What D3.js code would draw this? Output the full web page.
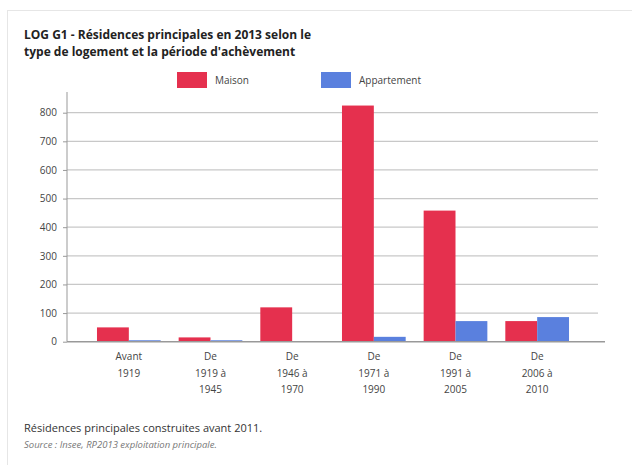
<!DOCTYPE html>
<html>
<head>
<meta charset="utf-8">
<script src="https://cdn.jsdelivr.net/npm/d3@7"></script>
<style>
body { margin:0; background:#fff; font-family:"Open Sans", sans-serif; }
</style>
</head>
<body>
<svg id="chart" width="632" height="465"></svg>
<script>
var categories = [["Avant", "1919"], ["De", "1919 à", "1945"], ["De", "1946 à", "1970"], ["De", "1971 à", "1990"], ["De", "1991 à", "2005"], ["De", "2006 à", "2010"]];
var series = ["Maison", "Appartement"];
var maison = [50, 15, 120, 825, 458, 72];
var appartement = [5, 5, 2, 17, 72, 86];
var yTicks = [0, 100, 200, 300, 400, 500, 600, 700, 800];
var colors = ["#e5304e", "#5a80de"];

var svg = d3.select("#chart");
var config = { left: 67, right: 598, top: 92, bottom: 341.7 };

// card
svg.append("rect").attr("x", 7.5).attr("y", 10.5).attr("width", 640).attr("height", 470)
    .attr("fill", "#fff").attr("stroke", "#e6e6e6");

svg.append("text").attr("x", 24).attr("y", 39).attr("font-size", 12).attr("font-weight", "bold").attr("fill", "#222")
    .text("LOG G1 - Résidences principales en 2013 selon le");
svg.append("text").attr("x", 24).attr("y", 56).attr("font-size", 12).attr("font-weight", "bold").attr("fill", "#222")
    .text("type de logement et la période d'achèvement");

var names = categories.map(function(d) { return d.join(" "); });
var x = d3.scaleBand().domain(names).range([88, 578]).paddingInner(0.22).paddingOuter(0.11);
var x1 = d3.scaleBand().domain(series).range([0, x.bandwidth()]);
var y = d3.scaleLinear().domain([0, 800]).range([config.bottom, 112.7]);

// grid
svg.append("g").selectAll("line").data(yTicks.slice(1)).enter().append("line")
    .attr("x1", config.left).attr("x2", config.right)
    .attr("y1", function(d) { return y(d); }).attr("y2", function(d) { return y(d); })
    .attr("stroke", "#c8c8c8").attr("stroke-width", 1.2);

var ejeY = d3.axisLeft(y).tickValues(yTicks).tickSize(4).tickPadding(6);
var gy = svg.append("g").attr("transform", "translate(" + config.left + ",0)").call(ejeY);
gy.select(".domain").remove();
gy.selectAll("line").attr("stroke", "#999");
gy.selectAll("text").attr("font-size", 10).attr("fill", "#444").attr("font-family", "Open Sans");
svg.append("line").attr("x1", config.left).attr("x2", config.left).attr("y1", config.top).attr("y2", config.bottom)
    .attr("stroke", "#999");

var data = names.map(function(n, i) { return { name: n, vals: [maison[i], appartement[i]] }; });
var groups = svg.append("g").selectAll("g").data(data).enter().append("g")
    .attr("transform", function(d) { return "translate(" + x(d.name) + ",0)"; });
groups.selectAll("rect").data(function(d) { return d.vals.map(function(v, j) { return { s: series[j], v: v, j: j }; }); })
    .enter().append("rect")
    .attr("x", function(d) { return x1(d.s); })
    .attr("width", x1.bandwidth())
    .attr("y", function(d) { return y(d.v); })
    .attr("height", function(d) { return config.bottom - y(d.v); })
    .attr("fill", function(d) { return colors[d.j]; });

svg.append("line").attr("x1", config.left).attr("x2", 605).attr("y1", config.bottom).attr("y2", config.bottom)
    .attr("stroke", "#999").attr("stroke-width", 1.5);

// x labels
var lab = svg.append("g").selectAll("text").data(categories).enter().append("text")
    .attr("text-anchor", "middle").attr("font-size", 10).attr("fill", "#444")
    .attr("x", function(d, i) { return x(names[i]) + x.bandwidth() / 2; });
lab.selectAll("tspan").data(function(d) { return d; }).enter().append("tspan")
    .attr("x", function() { return d3.select(this.parentNode).attr("x"); })
    .attr("y", function(d, i) { return 360 + i * 16.5; })
    .text(function(d) { return d; });

// legend
var leg = svg.append("g").selectAll("g").data(series).enter().append("g")
    .attr("transform", function(d, i) { return "translate(" + [177, 321][i] + ",72)"; });
leg.append("rect").attr("width", 30).attr("height", 16).attr("fill", function(d, i) { return colors[i]; });
leg.append("text").attr("x", 38).attr("y", 12).attr("font-size", 10).attr("fill", "#444").text(function(d) { return d; });

svg.append("text").attr("x", 24).attr("y", 432).attr("font-size", 11).attr("fill", "#333")
    .text("Résidences principales construites avant 2011.");
svg.append("text").attr("x", 24).attr("y", 448).attr("font-size", 9.5).attr("font-style", "italic").attr("fill", "#777")
    .text("Source : Insee, RP2013 exploitation principale.");
</script>
</body>
</html>
